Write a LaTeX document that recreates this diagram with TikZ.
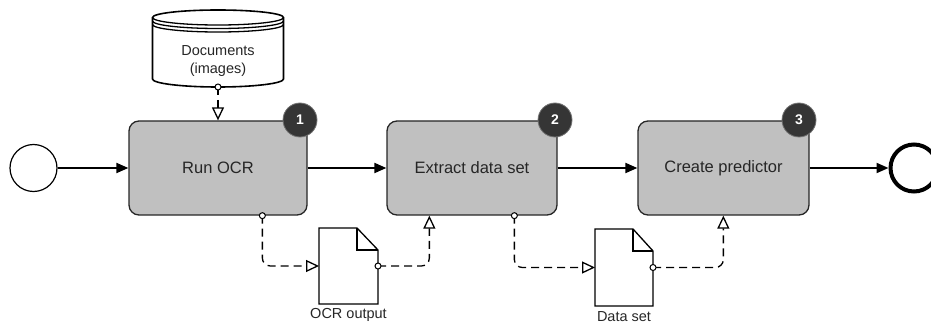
\documentclass[tikz,border=0pt]{standalone}
\usepackage{fontspec}
\setmainfont{Liberation Sans}
\usetikzlibrary{arrows.meta,calc}
\definecolor{taskfill}{HTML}{C0C0C0}
\definecolor{badgefill}{HTML}{353535}
\begin{document}
\begin{tikzpicture}[x=1pt,y=1pt,
 task/.style={draw=black!85, line width=1.3pt, fill=taskfill, rounded corners=10pt, minimum height=94pt, font=\fontsize{16.5}{19}\selectfont, text=black!85, inner sep=0},
 badge/.style={circle, fill=badgefill, draw=black!55, line width=0.8pt, minimum size=34pt, inner sep=0, text=white, font=\bfseries\fontsize{14}{16}\selectfont},
 flow/.style={line width=2pt, -{Triangle[length=12pt,width=10pt]}},
 assoc/.style={line width=1.3pt, dash pattern=on 8pt off 5pt, rounded corners=8pt, -{Triangle[open,length=13pt,width=12pt,line width=1.3pt]}},
 marker/.style={fill=white, line width=1pt},
 lbl/.style={font=\fontsize{14.5}{18}\selectfont, inner sep=0, text=black!85},
 docshape/.style={fill=white, draw, line width=1.3pt},
 holder/.style={inner sep=0, outer sep=0},
]
\useasboundingbox (0,0) rectangle (931,-326);

% events
\node[circle, draw, line width=1.2pt, minimum size=47pt, inner sep=0] (start) at (33.5,-168) {};
\node[circle, draw, line width=4pt, minimum size=47pt, inner sep=0] (end) at (914,-168) {};

% tasks
\node[task, minimum width=178pt] (t1) at (218,-168) {Run OCR};
\node[task, minimum width=170pt] (t2) at (472,-168) {Extract data set};
\node[task, minimum width=171pt] (t3) at (723.5,-168) {Create predictor};

% badges
\node[badge] (b1) at (300,-120) {1};
\node[badge] (b2) at (555,-120) {2};
\node[badge] (b3) at (799,-120) {3};

% data store
\node[holder, minimum width=131pt, minimum height=77pt] (ds) at (218,-48.5) {};
\draw[fill=white, line width=1.6pt] (152.5,-17.5) -- (152.5,-79)
  arc[start angle=180,end angle=360,x radius=65.5pt,y radius=8pt]
  -- (283.5,-17.5)
  arc[start angle=0,end angle=180,x radius=65.5pt,y radius=7.5pt] -- cycle;
\foreach \yy in {17.5,21,24.5}
  \draw[line width=1.3pt] (152.5,-\yy) arc[start angle=180,end angle=360,x radius=65.5pt,y radius=7.5pt];
\node[lbl, align=center] (dstext) at (218,-61) {Documents\\(images)};

% data objects
\node[holder, minimum width=59pt, minimum height=76pt] (doc1) at (348.5,-266) {};
\draw[docshape] (doc1.south west) |- ($(doc1.north east)+(-21,0)$) -- ($(doc1.north east)+(0,-22)$) -- (doc1.south east) -- cycle;
\draw[line width=1.3pt] ($(doc1.north east)+(-21,0)$) |- ($(doc1.north east)+(0,-22)$);
\node[lbl] (doc1lbl) at (348.5,-315) {OCR output};

\node[holder, minimum width=58pt, minimum height=77pt] (doc2) at (624,-267.5) {};
\draw[docshape] (doc2.south west) |- ($(doc2.north east)+(-20,0)$) -- ($(doc2.north east)+(0,-22)$) -- (doc2.south east) -- cycle;
\draw[line width=1.3pt] ($(doc2.north east)+(-20,0)$) |- ($(doc2.north east)+(0,-22)$);
\node[lbl] (doc2lbl) at (624,-317) {Data set};

% sequence flows
\draw[flow] (start.east) -- (t1.west);
\draw[flow] (t1.east) -- (t2.west);
\draw[flow] (t2.east) -- (t3.west);
\draw[flow] (t3.east) -- (end.west);

% associations
\draw[assoc] (ds.south) -- (t1.north);
\draw[marker] (ds.south) circle (3pt);

\coordinate (a1) at ($(t1.south west)+(134,0)$);
\coordinate (a2) at ($(t2.south west)+(43,0)$);
\coordinate (a3) at ($(t2.south west)+(128,0)$);
\coordinate (a4) at ($(t3.south west)+(86,0)$);

\draw[assoc] (a1) |- (doc1.west);
\draw[marker] (a1) circle (3pt);
\draw[assoc] (doc1.east) -| (a2);
\draw[marker] (doc1.east) circle (3pt);

\draw[assoc] (a3) |- (doc2.west);
\draw[marker] (a3) circle (3pt);
\draw[assoc] (doc2.east) -| (a4);
\draw[marker] (doc2.east) circle (3pt);
\end{tikzpicture}
\end{document}
